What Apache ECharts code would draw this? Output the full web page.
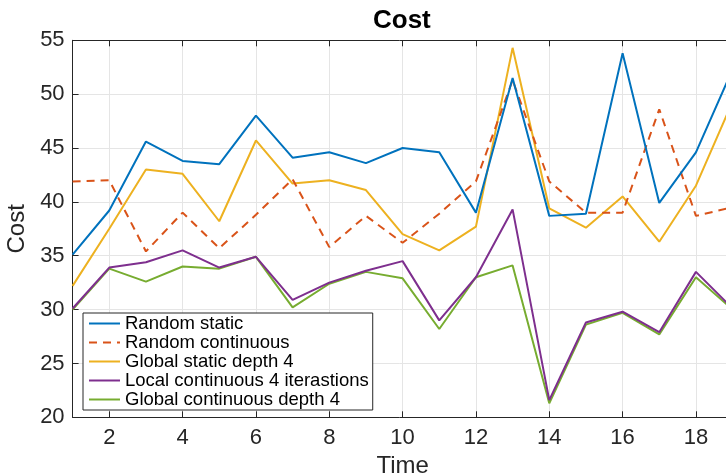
<!DOCTYPE html>
<html>
<head>
<meta charset="utf-8">
<script src="https://cdn.jsdelivr.net/npm/echarts@6/dist/echarts.min.js"></script>
<style>html,body{margin:0;padding:0;background:#fff}#c{width:726px;height:476px}</style>
</head>
<body>
<div id="c"></div>
<script>
const times = [1,2,3,4,5,6,7,8,9,10,11,12,13,14,15,16,17,18,19];
const xTicks = [2,4,6,8,10,12,14,16,18];
const yTicks = [20,25,30,35,40,45,50,55];
const seriesNames = ['Random static','Random continuous','Global static depth 4','Local continuous 4 iterastions','Global continuous depth 4'];
const randomStatic = [35.1,39.2,45.6,43.8,43.5,48.0,44.1,44.6,43.6,45.0,44.6,39.0,51.5,38.7,38.9,53.8,39.9,44.6,52.3];
const randomContinuous = [41.9,42.0,35.4,39.0,35.7,38.8,42.1,35.8,38.7,36.2,38.9,41.9,51.3,41.9,39.0,39.0,48.6,38.7,39.5];
const globalStatic = [32.2,37.5,43.0,42.6,38.2,45.7,41.7,42.0,41.1,37.0,35.5,37.7,54.3,39.4,37.6,40.5,36.3,41.5,49.3];
const localContinuous = [30.1,33.9,34.4,35.5,33.9,34.9,30.9,32.5,33.6,34.5,29.0,33.0,39.3,21.6,28.8,29.8,27.9,33.5,30.1];
const globalContinuous = [30.0,33.8,32.6,34.0,33.8,34.9,30.2,32.4,33.5,32.9,28.2,33.0,34.1,21.3,28.6,29.7,27.7,33.0,30.0];

const colors = ['#0072BD','#D95319','#EDB120','#7E2F8E','#77AC30'];
const allData = [randomStatic, randomContinuous, globalStatic, localContinuous, globalContinuous];
const FONT = '"Liberation Sans", Arial, Helvetica, sans-serif';
const AX = '#262626';

const chart = echarts.init(document.getElementById('c'), null, {renderer:'canvas'});
const series = allData.map((arr, i) => ({
  name: seriesNames[i],
  type: 'line',
  data: times.map((t, k) => [t, arr[k]]),
  showSymbol: false,
  symbol: 'none',
  lineStyle: {color: colors[i], width: 2, type: i === 1 ? [8, 6] : 'solid'},
  itemStyle: {color: colors[i]},
  z: 10 - i,
  animation: false
}));

chart.setOption({
  animation: false,
  title: {
    text: 'Cost', left: 373, top: 8, padding: 0,
    textStyle: {fontFamily: FONT, fontSize: 26, fontWeight: 'bold', color: '#000'}
  },
  grid: {left: 72.6, right: -6.6, top: 40.3, bottom: 58.7, containLabel: false, outerBoundsMode: 'none'},
  legend: {
    orient: 'vertical', left: 83, top: 313,
    data: seriesNames,
    itemWidth: 31, itemHeight: 10, itemGap: 0,
    itemStyle: {opacity: 0, borderWidth: 0},
    padding: [1, 4, 1, 5],
    backgroundColor: '#fff', borderColor: AX, borderWidth: 1,
    textStyle: {fontFamily: FONT, fontSize: 18.5, color: '#000', lineHeight: 18},
    selectedMode: false
  },
  xAxis: [{
    type: 'value', min: 1, max: 19, position: 'bottom',
    name: 'Time', nameLocation: 'middle', nameGap: 26,
    nameTextStyle: {fontFamily: FONT, fontSize: 24, color: AX},
    axisLine: {show: true, lineStyle: {color: AX, width: 1}},
    axisTick: {show: true, inside: true, length: 6, customValues: xTicks, lineStyle: {color: AX}},
    axisLabel: {show: true, customValues: xTicks, margin: 10, fontFamily: FONT, fontSize: 22, color: AX},
    splitLine: {show: true, lineStyle: {color: '#e5e5e5', width: 1}}
  }, {
    type: 'value', min: 1, max: 19, position: 'top',
    axisLine: {show: true, onZero: false, lineStyle: {color: AX, width: 1}},
    axisTick: {show: true, inside: true, length: 6, customValues: xTicks, lineStyle: {color: AX}},
    axisLabel: {show: false},
    splitLine: {show: false}
  }],
  yAxis: [{
    type: 'value', min: 20, max: 55, interval: 5,
    name: 'Cost', nameLocation: 'middle', nameGap: 37, nameRotate: 90,
    nameTextStyle: {fontFamily: FONT, fontSize: 24, color: AX},
    axisLine: {show: true, lineStyle: {color: AX, width: 1}},
    axisTick: {show: true, inside: true, length: 6, lineStyle: {color: AX}},
    axisLabel: {show: true, margin: 8, fontFamily: FONT, fontSize: 22, color: AX},
    splitLine: {show: true, lineStyle: {color: '#e5e5e5', width: 1}}
  }],
  series: series
});
</script>
</body>
</html>
